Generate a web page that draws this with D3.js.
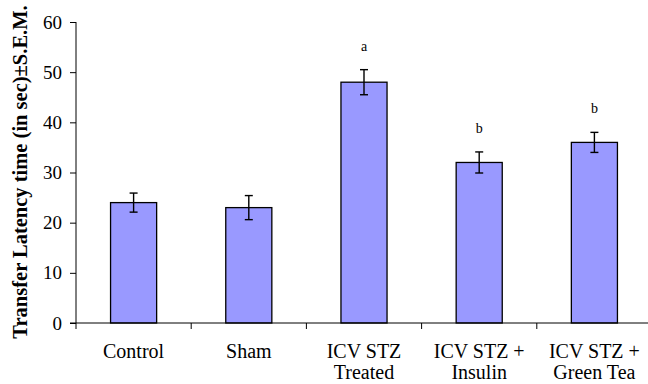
<!DOCTYPE html>
<html>
<head>
<meta charset="utf-8">
<script src="https://cdnjs.cloudflare.com/ajax/libs/d3/7.8.5/d3.min.js"></script>
<style>
  body { margin: 0; background: #fff; }
  svg text { font-family: "Liberation Serif", "Times New Roman", Times, serif !important; }
</style>
</head>
<body>
<div id="main"></div>
<script>
const groups = [["Control"], ["Sham"], ["ICV STZ", "Treated"], ["ICV STZ +", "Insulin"], ["ICV STZ +", "Green Tea"]];
const means = [24, 23, 48, 32, 36];
const sems = [1.9, 2.4, 2.5, 2.1, 2.0];
const marks = ["", "", "a", "b", "b"];
const yTicks = [0, 10, 20, 30, 40, 50, 60];

const W = 648, H = 384;
const margin = {top: 22, right: -4, bottom: 61, left: 76};

const svg = d3.select("#main").append("svg")
    .attr("width", W).attr("height", H)
    .attr("font-family", "Liberation Serif");

const x = d3.scaleBand()
    .domain(d3.range(groups.length))
    .range([margin.left, W - margin.right])
    .paddingInner(0.6).paddingOuter(0.3);

const y = d3.scaleLinear()
    .domain([0, 60])
    .range([H - margin.bottom, margin.top]);

// bars
svg.append("g").selectAll("rect")
    .data(means)
    .enter().append("rect")
    .attr("x", (d, i) => x(i))
    .attr("y", d => y(d))
    .attr("width", x.bandwidth())
    .attr("height", d => y(0) - y(d))
    .attr("fill", "#9999ff")
    .attr("stroke", "#000")
    .attr("stroke-width", 1.3);

// error bars
const eg = svg.append("g").attr("stroke", "#000").attr("stroke-width", 1.4);
means.forEach((m, i) => {
    const cx = x(i) + x.bandwidth() / 2;
    eg.append("line").attr("x1", cx).attr("x2", cx)
        .attr("y1", y(m - sems[i])).attr("y2", y(m + sems[i]));
    [m - sems[i], m + sems[i]].forEach(v => {
        eg.append("line").attr("x1", cx - 4).attr("x2", cx + 4)
            .attr("y1", y(v)).attr("y2", y(v));
    });
});

// significance letters
svg.append("g").selectAll("text")
    .data(marks)
    .enter().append("text")
    .attr("x", (d, i) => x(i) + x.bandwidth() / 2)
    .attr("y", (d, i) => y(means[i] + sems[i]) - 19)
    .attr("text-anchor", "middle")
    .attr("font-size", 14)
    .text(d => d);

// y axis
const yAxis = d3.axisLeft(y).tickValues(yTicks).tickSize(6).tickPadding(8);
const ya = svg.append("g")
    .attr("transform", `translate(${margin.left},0)`)
    .call(yAxis);
ya.attr("font-family", null).attr("font-size", null);
ya.select(".domain").attr("d", `M0,${y(60)}V${y(0)}`);
ya.selectAll("text").attr("font-size", 19);

// x axis line and ticks between categories
const xa = svg.append("g").attr("stroke", "#000").attr("stroke-width", 1);
xa.append("line").attr("x1", margin.left - 6).attr("x2", W)
    .attr("y1", y(0)).attr("y2", y(0));
d3.range(groups.length + 1).forEach(i => {
    const tx = margin.left + i * (W - margin.right - margin.left) / groups.length;
    xa.append("line").attr("x1", tx).attr("x2", tx)
        .attr("y1", y(0)).attr("y2", y(0) + 6);
});

// category labels
const lab = svg.append("g").selectAll("text")
    .data(groups)
    .enter().append("text")
    .attr("x", (d, i) => x(i) + x.bandwidth() / 2)
    .attr("y", y(0) + 35)
    .attr("text-anchor", "middle")
    .attr("font-size", 20);
lab.each(function(d) {
    const t = d3.select(this);
    d.forEach((line, k) => {
        t.append("tspan")
            .attr("x", t.attr("x"))
            .attr("dy", k === 0 ? 0 : 21)
            .text(line);
    });
});

// y axis title
svg.append("text")
    .attr("transform", `translate(27,172) rotate(-90)`)
    .attr("text-anchor", "middle")
    .attr("font-size", 20.5)
    .attr("font-weight", "bold")
    .text("Transfer Latency time (in sec)±S.E.M.");
</script>
</body>
</html>
